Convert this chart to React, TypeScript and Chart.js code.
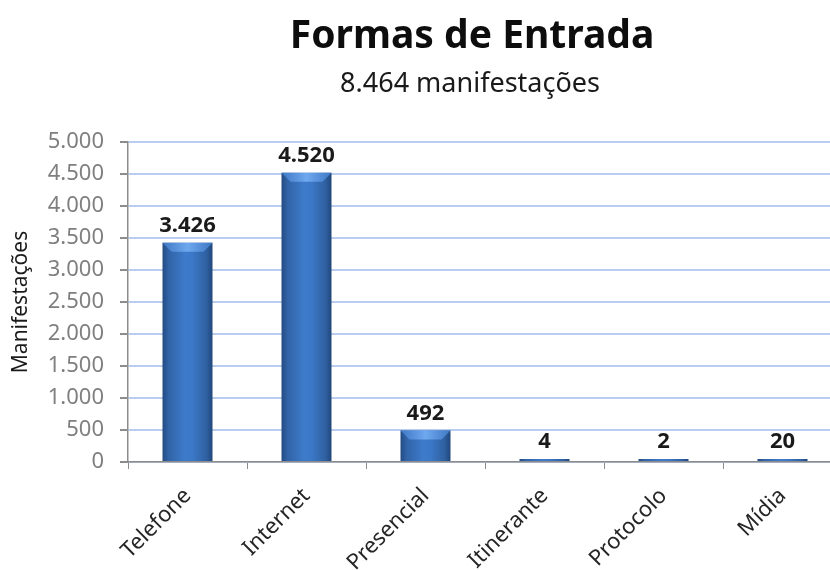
import React, { useEffect, useRef } from 'react';
import { Chart, registerables } from 'chart.js';

Chart.register(...registerables);

const TITLE = 'Formas de Entrada';
const SUBTITLE = '8.464 manifestações';
const Y_TITLE = 'Manifestações';
const categories = ['Telefone', 'Internet', 'Presencial', 'Itinerante', 'Protocolo', 'Mídia'];
const values = [3426, 4520, 492, 4, 2, 20];
const yMin = 0;
const yMax = 5000;
const yStep = 500;

const FONT = "'Noto Sans', 'DejaVu Sans', sans-serif";

const fmt = (n: number) => String(Math.round(n)).replace(/\B(?=(\d{3})+(?!\d))/g, '.');

const titlePlugin = {
  id: 'excelTitle',
  afterDraw(chart: any) {
    const ctx = chart.ctx;
    ctx.save();
    ctx.textAlign = 'center';
    ctx.textBaseline = 'alphabetic';
    ctx.fillStyle = '#0d0d0d';
    ctx.font = `bold 39px ${FONT}`;
    ctx.fillText(TITLE, 472, 48);
    ctx.fillStyle = '#1a1a1a';
    ctx.font = `27px ${FONT}`;
    ctx.fillText(SUBTITLE, 470, 92);
    ctx.restore();
  },
};

const barDecorPlugin = {
  id: 'barDecor',
  afterDatasetsDraw(chart: any) {
    const ctx = chart.ctx;
    const meta = chart.getDatasetMeta(0);
    ctx.save();
    meta.data.forEach((bar: any, i: number) => {
      const { x, y, base, width } = bar.getProps(['x', 'y', 'base', 'width'], true);
      const left = x - width / 2;
      const right = x + width / 2;
      const h = base - y;
      if (h > 10) {
        const b = Math.min(9, h / 2);
        const g = ctx.createLinearGradient(left, 0, right, 0);
        g.addColorStop(0, '#3f78c4');
        g.addColorStop(0.5, '#6ea8ee');
        g.addColorStop(1, '#3f78c4');
        ctx.beginPath();
        ctx.moveTo(left, y);
        ctx.lineTo(right, y);
        ctx.lineTo(right - b, y + b);
        ctx.lineTo(left + b, y + b);
        ctx.closePath();
        ctx.fillStyle = g;
        ctx.fill();
      }
      ctx.font = `bold 22px ${FONT}`;
      ctx.fillStyle = '#1a1a1a';
      ctx.textAlign = 'center';
      ctx.textBaseline = 'alphabetic';
      ctx.fillText(fmt(values[i]), x, y - 11);
    });
    ctx.restore();
  },
};

export default function App() {
  const canvasRef = useRef<HTMLCanvasElement | null>(null);

  useEffect(() => {
    if (!canvasRef.current) return;
    const chart = new Chart(canvasRef.current, {
      type: 'bar',
      data: {
        labels: categories,
        datasets: [
          {
            label: Y_TITLE,
            data: values,
            barPercentage: 0.42,
            categoryPercentage: 1,
            minBarLength: 3,
            borderWidth: 0,
            backgroundColor: (c: any) => {
              const chart = c.chart;
              const xs = chart.scales && chart.scales.x;
              if (!xs || !chart.chartArea || c.dataIndex === undefined) return '#3a72bd';
              const cx = xs.getPixelForValue(c.dataIndex);
              const w = (xs.width / categories.length) * 0.42;
              if (!isFinite(cx) || !isFinite(w) || w <= 0) return '#3a72bd';
              const g = chart.ctx.createLinearGradient(cx - w / 2, 0, cx + w / 2, 0);
              g.addColorStop(0, '#244b82');
              g.addColorStop(0.12, '#3163a6');
              g.addColorStop(0.45, '#3d7bcb');
              g.addColorStop(0.6, '#3b78c7');
              g.addColorStop(0.88, '#2f60a1');
              g.addColorStop(1, '#21477c');
              return g;
            },
          },
        ],
      },
      options: {
        responsive: false,
        devicePixelRatio: 1,
        animation: false,
        layout: { padding: { top: 142, left: 0, right: 0, bottom: 0 } },
        plugins: {
          legend: { display: false },
          tooltip: { enabled: false },
          title: { display: false },
        },
        scales: {
          x: {
            grid: {
              display: true,
              drawOnChartArea: false,
              drawTicks: true,
              tickLength: 7,
              tickColor: '#8c8c8c',
              offset: true,
            },
            border: { display: true, color: '#8c8c8c', width: 1.5 },
            ticks: {
              color: '#262626',
              font: { family: FONT, size: 22 },
              maxRotation: 45,
              minRotation: 45,
              padding: 14,
              autoSkip: false,
            },
            afterFit: (s: any) => {
              s.height = 108;
            },
          },
          y: {
            min: yMin,
            max: yMax,
            ticks: {
              stepSize: yStep,
              color: '#7f7f7f',
              font: { family: FONT, size: 22 },
              padding: 16,
              callback: (v: any) => fmt(Number(v)),
            },
            grid: {
              color: '#b9cdef',
              lineWidth: 2,
              tickColor: '#8c8c8c',
              tickLength: 8,
            },
            border: { display: true, color: '#8c8c8c', width: 1.5 },
            title: {
              display: true,
              text: Y_TITLE,
              color: '#1a1a1a',
              font: { family: FONT, size: 21 },
              padding: { top: 8, bottom: 0 },
            },
            afterFit: (s: any) => {
              s.width = 128;
            },
          },
        },
      },
      plugins: [barDecorPlugin, titlePlugin],
    } as any);
    return () => chart.destroy();
  }, []);

  return (
    <div style={{ position: 'fixed', left: 0, top: 0, width: 842, height: 570, background: '#ffffff' }}>
      <canvas ref={canvasRef} width={842} height={570} style={{ display: 'block' }} />
    </div>
  );
}
